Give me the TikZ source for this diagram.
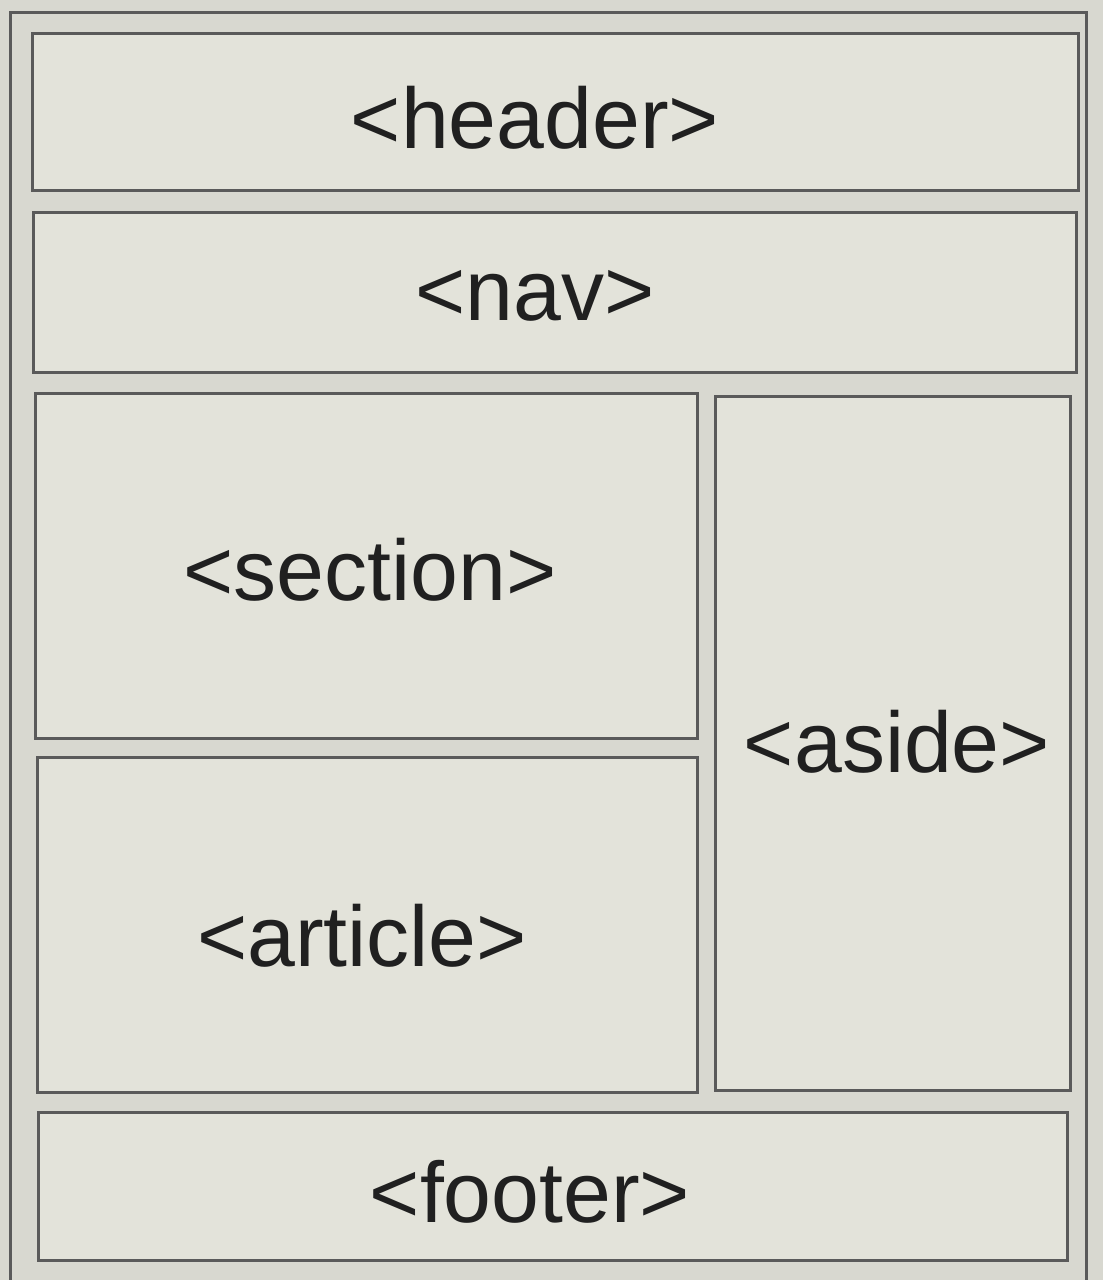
\documentclass[tikz,border=0pt]{standalone}
\usepackage{fontspec}
\setmainfont{Liberation Sans}
\definecolor{bg}{HTML}{D8D8D0}
\definecolor{boxfill}{HTML}{E3E3DA}
\definecolor{edge}{HTML}{5A5A5A}
\definecolor{ink}{HTML}{202020}
\begin{document}
\begin{tikzpicture}[x=1pt,y=-1pt,
  region/.style={draw=edge,line width=3pt,fill=boxfill},
  lbl/.style={text=ink,font=\fontsize{86}{90}\selectfont,inner sep=0pt}]
\useasboundingbox (0,0) rectangle (1103,1280);
\fill[bg] (0,0) rectangle (1103,1280);
\draw[edge,line width=3pt] (10,12) rectangle (1086,1285);
\draw[region] (32,33) rectangle (1078,190) coordinate (hdr);
\draw[region] (33,212) rectangle (1076,372);
\draw[region] (35,393) rectangle (697,738);
\draw[region] (715,396) rectangle (1070,1090);
\draw[region] (37,757) rectangle (697,1092);
\draw[region] (38,1112) rectangle (1067,1260);
\node[lbl] (header) at (535,118) {<header>};
\node[lbl] (nav) at (535,296) {<nav>};
\node[lbl] (section) at (370,570) {<section>};
\node[lbl] (aside) at (897,742) {<aside>};
\node[lbl] (article) at (362,936) {<article>};
\node[lbl] (footer) at (530,1192) {<footer>};
\end{tikzpicture}
\end{document}
